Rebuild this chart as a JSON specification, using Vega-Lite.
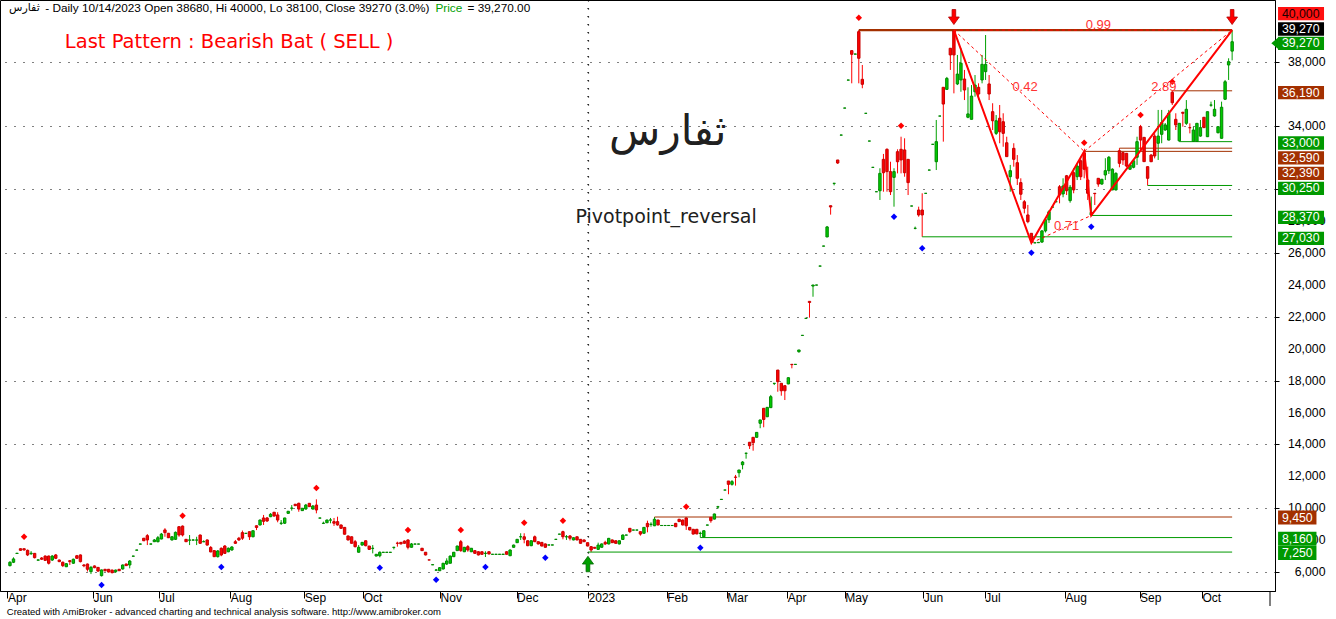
{
"$schema":"https://vega.github.io/schema/vega-lite/v6.json",
"width":1275,"height":591,
"autosize":{"type":"none"},
"padding":{"left":0,"top":0,"right":61,"bottom":28},
"background":"white",
"config":{"view":{"stroke":"black","strokeWidth":1},"axis":{"domainWidth":1,"tickWidth":1}},
"datasets":{
"bars":[
{"i":0,"o":6400,"h":6680,"l":6350,"c":6610},{"i":1,"o":6610,"h":6920,"l":6560,"c":6820},{"i":2,"o":7160,"h":7190,"l":7150,"c":7180},{"i":3,"o":7460,"h":7480,"l":7320,"c":7360},{"i":4,"o":7460,"h":7470,"l":7330,"c":7390},{"i":5,"o":7360,"h":7410,"l":7000,"c":7070},{"i":6,"o":7150,"h":7310,"l":7070,"c":7180},{"i":7,"o":7170,"h":7190,"l":6850,"c":6900},{"i":8,"o":6740,"h":6780,"l":6730,"c":6760},{"i":9,"o":6880,"h":6940,"l":6750,"c":6800},
{"i":10,"o":7000,"h":7040,"l":6690,"c":6730},{"i":11,"o":7000,"h":7030,"l":6470,"c":6550},{"i":12,"o":6750,"h":7060,"l":6690,"c":7000},{"i":13,"o":7070,"h":7130,"l":6810,"c":6860},{"i":14,"o":6750,"h":6780,"l":6620,"c":6650},{"i":15,"o":6610,"h":6660,"l":6310,"c":6400},{"i":16,"o":6330,"h":6560,"l":6310,"c":6520},{"i":17,"o":6710,"h":6750,"l":6440,"c":6650},{"i":18,"o":6550,"h":6840,"l":6510,"c":6800},{"i":19,"o":7020,"h":7070,"l":6840,"c":6860},
{"i":20,"o":7070,"h":7100,"l":6600,"c":6650},{"i":21,"o":6440,"h":6500,"l":6300,"c":6390},{"i":22,"o":6500,"h":6530,"l":6030,"c":6170},{"i":23,"o":6020,"h":6380,"l":5870,"c":6290},{"i":24,"o":6380,"h":6410,"l":6240,"c":6270},{"i":25,"o":6290,"h":6310,"l":6000,"c":6060},{"i":26,"o":5770,"h":6150,"l":5720,"c":6130},{"i":27,"o":6170,"h":6190,"l":6030,"c":6080},{"i":28,"o":6170,"h":6190,"l":5970,"c":6000},{"i":29,"o":6120,"h":6150,"l":5910,"c":5960},
{"i":30,"o":6020,"h":6150,"l":5940,"c":6120},{"i":31,"o":6170,"h":6190,"l":6060,"c":6080},{"i":32,"o":6190,"h":6470,"l":6150,"c":6440},{"i":33,"o":6500,"h":6530,"l":6380,"c":6400},{"i":34,"o":6440,"h":6750,"l":6230,"c":6690},{"i":35,"o":6990,"h":7010,"l":6980,"c":7000},{"i":36,"o":7370,"h":7390,"l":7360,"c":7380},{"i":37,"o":7745,"h":7770,"l":7740,"c":7760},{"i":38,"o":8120,"h":8130,"l":7940,"c":7960},{"i":39,"o":8280,"h":8380,"l":7690,"c":8010},
{"i":40,"o":7750,"h":7770,"l":7740,"c":7760},{"i":41,"o":7900,"h":8070,"l":7880,"c":8010},{"i":42,"o":7900,"h":8260,"l":7860,"c":8150},{"i":43,"o":8070,"h":8450,"l":8050,"c":8380},{"i":44,"o":8640,"h":8750,"l":8210,"c":8470},{"i":45,"o":8430,"h":8450,"l":8130,"c":8150},{"i":46,"o":8010,"h":8260,"l":7980,"c":8210},{"i":47,"o":8050,"h":8540,"l":8010,"c":8490},{"i":48,"o":8840,"h":8880,"l":8210,"c":8320},{"i":49,"o":8880,"h":8920,"l":8230,"c":8320},
{"i":50,"o":8050,"h":8070,"l":7880,"c":7900},{"i":51,"o":7995,"h":8320,"l":7690,"c":8010},{"i":52,"o":8000,"h":8050,"l":7990,"c":8010},{"i":53,"o":8000,"h":8210,"l":7690,"c":8010},{"i":54,"o":8320,"h":8350,"l":7780,"c":7800},{"i":55,"o":7895,"h":7990,"l":7880,"c":7905},{"i":56,"o":8010,"h":8040,"l":7660,"c":7690},{"i":57,"o":7540,"h":7630,"l":7240,"c":7260},{"i":58,"o":7340,"h":7380,"l":6940,"c":6960},{"i":59,"o":6960,"h":7380,"l":6910,"c":7320},
{"i":60,"o":7490,"h":7540,"l":6990,"c":7070},{"i":61,"o":7630,"h":7690,"l":7130,"c":7170},{"i":62,"o":7270,"h":7540,"l":7240,"c":7490},{"i":63,"o":7380,"h":7620,"l":7340,"c":7570},{"i":64,"o":7900,"h":8010,"l":7760,"c":7800},{"i":65,"o":8120,"h":8200,"l":7950,"c":8010},{"i":66,"o":8470,"h":8600,"l":8010,"c":8120},{"i":67,"o":8420,"h":8440,"l":8410,"c":8430},{"i":68,"o":8530,"h":8530,"l":8010,"c":8210},{"i":69,"o":8210,"h":8600,"l":8180,"c":8590},
{"i":70,"o":8900,"h":8920,"l":8630,"c":8790},{"i":71,"o":8950,"h":9290,"l":8920,"c":9260},{"i":72,"o":9390,"h":9580,"l":8950,"c":9180},{"i":73,"o":9390,"h":9450,"l":9140,"c":9200},{"i":74,"o":9470,"h":9700,"l":9440,"c":9620},{"i":75,"o":9750,"h":9760,"l":9480,"c":9510},{"i":76,"o":9580,"h":9750,"l":9120,"c":9260},{"i":77,"o":9050,"h":9260,"l":8950,"c":9070},{"i":78,"o":9060,"h":9400,"l":9010,"c":9390},{"i":79,"o":9680,"h":9830,"l":9660,"c":9810},
{"i":80,"o":10000,"h":10200,"l":9850,"c":10010},{"i":81,"o":10250,"h":10270,"l":10140,"c":10160},{"i":82,"o":10310,"h":10350,"l":9780,"c":9950},{"i":83,"o":9850,"h":10000,"l":9830,"c":10000},{"i":84,"o":9950,"h":10270,"l":9920,"c":10200},{"i":85,"o":10310,"h":10330,"l":10080,"c":10100},{"i":86,"o":9950,"h":10200,"l":9920,"c":10140},{"i":87,"o":10200,"h":10560,"l":9680,"c":9890},{"i":88,"o":9380,"h":9395,"l":9375,"c":9390},{"i":89,"o":9050,"h":9160,"l":9010,"c":9060},
{"i":90,"o":9090,"h":9290,"l":9070,"c":9260},{"i":91,"o":9255,"h":9390,"l":9055,"c":9265},{"i":92,"o":9160,"h":9390,"l":8890,"c":9060},{"i":93,"o":9160,"h":9470,"l":8910,"c":8950},{"i":94,"o":8950,"h":8980,"l":8720,"c":8740},{"i":95,"o":8800,"h":8820,"l":8350,"c":8370},{"i":96,"o":8260,"h":8290,"l":7980,"c":8010},{"i":97,"o":8210,"h":8230,"l":7790,"c":7800},{"i":98,"o":7900,"h":8010,"l":7540,"c":7590},{"i":99,"o":7240,"h":7690,"l":7220,"c":7550},
{"i":100,"o":7690,"h":7880,"l":7660,"c":7860},{"i":101,"o":7960,"h":7980,"l":7610,"c":7650},{"i":102,"o":7630,"h":7630,"l":7380,"c":7420},{"i":103,"o":7480,"h":7690,"l":7170,"c":7490},{"i":104,"o":7000,"h":7130,"l":6990,"c":7110},{"i":105,"o":7020,"h":7290,"l":6920,"c":7240},{"i":106,"o":7230,"h":7245,"l":7225,"c":7240},{"i":107,"o":7230,"h":7245,"l":7225,"c":7240},{"i":108,"o":7230,"h":7245,"l":7225,"c":7240},{"i":109,"o":7540,"h":7580,"l":7420,"c":7550},
{"i":110,"o":7810,"h":7900,"l":7590,"c":7800},{"i":111,"o":7860,"h":7880,"l":7740,"c":7760},{"i":112,"o":7940,"h":7980,"l":7780,"c":7800},{"i":113,"o":8010,"h":8050,"l":7420,"c":7550},{"i":114,"o":7550,"h":7820,"l":7540,"c":7760},{"i":115,"o":7750,"h":7765,"l":7745,"c":7757},{"i":116,"o":7750,"h":7765,"l":7745,"c":7757},{"i":117,"o":7490,"h":7510,"l":7320,"c":7340},{"i":118,"o":7240,"h":7250,"l":7040,"c":7070},{"i":119,"o":6760,"h":6765,"l":6745,"c":6750},
{"i":120,"o":6450,"h":6465,"l":6445,"c":6460},{"i":121,"o":6115,"h":6190,"l":6110,"c":6125},{"i":122,"o":6080,"h":6310,"l":6060,"c":6270},{"i":123,"o":6190,"h":6560,"l":6160,"c":6550},{"i":124,"o":6500,"h":6860,"l":6440,"c":6690},{"i":125,"o":6550,"h":7030,"l":6540,"c":7000},{"i":126,"o":6960,"h":7250,"l":6940,"c":7240},{"i":127,"o":7340,"h":7650,"l":7320,"c":7630},{"i":128,"o":7900,"h":8010,"l":7270,"c":7340},{"i":129,"o":7270,"h":7570,"l":7250,"c":7550},
{"i":130,"o":7590,"h":7690,"l":7270,"c":7380},{"i":131,"o":7270,"h":7500,"l":7250,"c":7490},{"i":132,"o":7340,"h":7350,"l":7160,"c":7170},{"i":133,"o":7270,"h":7300,"l":7040,"c":7070},{"i":134,"o":7270,"h":7290,"l":7100,"c":7110},{"i":135,"o":7165,"h":7300,"l":6940,"c":7175},{"i":136,"o":7270,"h":7300,"l":7110,"c":7130},{"i":137,"o":7105,"h":7120,"l":7100,"c":7115},{"i":138,"o":7105,"h":7120,"l":7100,"c":7115},{"i":139,"o":7105,"h":7120,"l":7100,"c":7115},
{"i":140,"o":7100,"h":7130,"l":7090,"c":7120},{"i":141,"o":7270,"h":7300,"l":7100,"c":7110},{"i":142,"o":7020,"h":7410,"l":7000,"c":7380},{"i":143,"o":7550,"h":7720,"l":7530,"c":7690},{"i":144,"o":7840,"h":8070,"l":7820,"c":8050},{"i":145,"o":8205,"h":8430,"l":8010,"c":8214},{"i":146,"o":8210,"h":8430,"l":7800,"c":8050},{"i":147,"o":7960,"h":7980,"l":7620,"c":7650},{"i":148,"o":7650,"h":7980,"l":7620,"c":7960},{"i":149,"o":8210,"h":8290,"l":7880,"c":7900},
{"i":150,"o":7900,"h":7910,"l":7730,"c":7760},{"i":151,"o":7860,"h":7880,"l":7610,"c":7630},{"i":152,"o":7760,"h":7790,"l":7530,"c":7550},{"i":153,"o":7690,"h":7705,"l":7685,"c":7700},{"i":154,"o":7690,"h":7705,"l":7685,"c":7700},{"i":155,"o":8045,"h":8060,"l":8040,"c":8052},{"i":156,"o":8370,"h":8385,"l":8365,"c":8380},{"i":157,"o":8530,"h":8590,"l":8050,"c":8210},{"i":158,"o":8205,"h":8320,"l":8010,"c":8214},{"i":159,"o":8260,"h":8320,"l":7980,"c":8120},
{"i":160,"o":8010,"h":8170,"l":7990,"c":8150},{"i":161,"o":8210,"h":8230,"l":7990,"c":8010},{"i":162,"o":8050,"h":8070,"l":7790,"c":7800},{"i":163,"o":8010,"h":8040,"l":7880,"c":7900},{"i":164,"o":7840,"h":7850,"l":7610,"c":7630},{"i":165,"o":7590,"h":7630,"l":7250,"c":7380},{"i":166,"o":7550,"h":7570,"l":7470,"c":7490},{"i":167,"o":7420,"h":7840,"l":7380,"c":7690},{"i":168,"o":7550,"h":7790,"l":7530,"c":7760},{"i":169,"o":7860,"h":7960,"l":7690,"c":7760},
{"i":170,"o":7760,"h":8140,"l":7730,"c":8110},{"i":171,"o":8010,"h":8040,"l":7820,"c":7840},{"i":172,"o":7960,"h":7980,"l":7780,"c":7800},{"i":173,"o":7760,"h":7980,"l":7730,"c":7960},{"i":174,"o":8040,"h":8350,"l":8020,"c":8320},{"i":175,"o":8315,"h":8330,"l":8310,"c":8321},{"i":176,"o":8740,"h":8750,"l":8440,"c":8530},{"i":177,"o":8630,"h":8645,"l":8625,"c":8635},{"i":178,"o":8630,"h":8645,"l":8625,"c":8635},{"i":179,"o":8530,"h":8540,"l":8280,"c":8380},
{"i":180,"o":8430,"h":8820,"l":8410,"c":8800},{"i":181,"o":9050,"h":9220,"l":8490,"c":8840},{"i":182,"o":8985,"h":9120,"l":8840,"c":8995},{"i":183,"o":8900,"h":9450,"l":8880,"c":9310},{"i":184,"o":9260,"h":9280,"l":8930,"c":8950},{"i":185,"o":8915,"h":8925,"l":8910,"c":8920},{"i":186,"o":8915,"h":8925,"l":8910,"c":8920},{"i":187,"o":8915,"h":8925,"l":8910,"c":8920},{"i":188,"o":8915,"h":8925,"l":8910,"c":8920},{"i":189,"o":9050,"h":9080,"l":8820,"c":8840},
{"i":190,"o":9310,"h":9330,"l":9140,"c":9160},{"i":191,"o":9260,"h":9290,"l":8920,"c":8950},{"i":192,"o":9390,"h":9430,"l":8640,"c":8900},{"i":193,"o":8800,"h":8820,"l":8610,"c":8640},{"i":194,"o":8680,"h":8700,"l":8360,"c":8380},{"i":195,"o":8680,"h":8700,"l":8370,"c":8390},{"i":196,"o":8420,"h":8530,"l":8160,"c":8430},{"i":197,"o":8210,"h":8600,"l":8170,"c":8590},{"i":198,"o":8940,"h":8955,"l":8935,"c":8950},{"i":199,"o":9430,"h":9430,"l":9090,"c":9220},
{"i":200,"o":9320,"h":9660,"l":9300,"c":9640},{"i":201,"o":10080,"h":10150,"l":9960,"c":10090},{"i":202,"o":10550,"h":10570,"l":10545,"c":10560},{"i":203,"o":11140,"h":11150,"l":11135,"c":11145},{"i":204,"o":11710,"h":11710,"l":10880,"c":11500},{"i":205,"o":11500,"h":11770,"l":11420,"c":11670},{"i":206,"o":11955,"h":12090,"l":11420,"c":11940},{"i":207,"o":12230,"h":12400,"l":11940,"c":12400},{"i":208,"o":12730,"h":12960,"l":12440,"c":12900},{"i":209,"o":13445,"h":13490,"l":13110,"c":13450},
{"i":210,"o":14140,"h":14140,"l":13720,"c":13920},{"i":211,"o":14450,"h":14450,"l":13610,"c":14110},{"i":212,"o":14450,"h":14780,"l":14440,"c":14760},{"i":213,"o":15330,"h":15540,"l":15020,"c":15540},{"i":214,"o":16270,"h":16270,"l":15080,"c":15570},{"i":215,"o":15740,"h":16350,"l":15720,"c":16330},{"i":216,"o":16310,"h":17110,"l":16290,"c":17000},{"i":217,"o":17830,"h":17840,"l":17730,"c":17840},{"i":218,"o":18670,"h":18670,"l":17310,"c":17940},{"i":219,"o":17840,"h":17840,"l":17060,"c":17370},
{"i":220,"o":17690,"h":17690,"l":16790,"c":17370},{"i":221,"o":17800,"h":18210,"l":17780,"c":18190},{"i":222,"o":19030,"h":19031,"l":18780,"c":19010},{"i":223,"o":19020,"h":19040,"l":19015,"c":19031},{"i":224,"o":19820,"h":19930,"l":19760,"c":19930},{"i":225,"o":20840,"h":20860,"l":20835,"c":20850},{"i":226,"o":21910,"h":21925,"l":21905,"c":21917},{"i":227,"o":22980,"h":22980,"l":21960,"c":22910},{"i":228,"o":23940,"h":24010,"l":23270,"c":24006},{"i":229,"o":24000,"h":24015,"l":23995,"c":24006},
{"i":230,"o":25190,"h":25205,"l":25185,"c":25200},{"i":231,"o":26445,"h":26460,"l":26440,"c":26453},{"i":232,"o":27020,"h":27710,"l":27010,"c":27650},{"i":233,"o":28980,"h":28980,"l":28420,"c":28900},{"i":234,"o":30380,"h":30400,"l":30260,"c":30390},{"i":235,"o":31850,"h":31850,"l":31600,"c":31660},{"i":236,"o":33410,"h":33425,"l":33405,"c":33417},{"i":237,"o":35105,"h":35120,"l":35100,"c":35111},{"i":238,"o":36860,"h":36875,"l":36855,"c":36868},{"i":239,"o":38710,"h":38710,"l":36660,"c":38480},
{"i":240,"o":38490,"h":38510,"l":38485,"c":38500},{"i":241,"o":39900,"h":40000,"l":36660,"c":38230},{"i":242,"o":36910,"h":37810,"l":36350,"c":36600},{"i":243,"o":34775,"h":34785,"l":34770,"c":34779},{"i":244,"o":33035,"h":33045,"l":33030,"c":33041},{"i":245,"o":31385,"h":31395,"l":31380,"c":31390},{"i":246,"o":29855,"h":29865,"l":29850,"c":29860},{"i":247,"o":29920,"h":31330,"l":29340,"c":31010},{"i":248,"o":31890,"h":32230,"l":29860,"c":31050},{"i":249,"o":32520,"h":32580,"l":29860,"c":31120},
{"i":250,"o":31120,"h":31740,"l":29650,"c":29860},{"i":251,"o":30760,"h":31330,"l":28920,"c":31120},{"i":252,"o":32370,"h":32520,"l":31010,"c":31740},{"i":253,"o":32520,"h":33310,"l":31010,"c":31850},{"i":254,"o":32480,"h":33210,"l":30800,"c":31050},{"i":255,"o":31890,"h":31890,"l":29650,"c":30430},{"i":256,"o":28960,"h":28975,"l":28955,"c":28963},{"i":257,"o":27560,"h":27670,"l":27500,"c":27563},{"i":258,"o":28710,"h":28920,"l":28290,"c":28400},{"i":259,"o":28710,"h":29760,"l":27030,"c":28400},
{"i":260,"o":29755,"h":29765,"l":29750,"c":29759},{"i":261,"o":31215,"h":31230,"l":31210,"c":31221},{"i":262,"o":32830,"h":32840,"l":32825,"c":32834},{"i":263,"o":31740,"h":34360,"l":31220,"c":33000},{"i":264,"o":34605,"h":34615,"l":34600,"c":34609},{"i":265,"o":36410,"h":36410,"l":33000,"c":35360},{"i":266,"o":36280,"h":37060,"l":36240,"c":36970},{"i":267,"o":38860,"h":38860,"l":37500,"c":38440},{"i":268,"o":39950,"h":40000,"l":36030,"c":38440},{"i":269,"o":36620,"h":38440,"l":36550,"c":37240},
{"i":270,"o":36870,"h":38860,"l":36130,"c":37920},{"i":271,"o":36930,"h":37500,"l":35610,"c":36240},{"i":272,"o":34530,"h":36410,"l":34470,"c":34740},{"i":273,"o":34400,"h":36550,"l":34400,"c":35860},{"i":274,"o":36130,"h":37180,"l":35820,"c":36550},{"i":275,"o":36410,"h":36660,"l":35610,"c":35990},{"i":276,"o":36870,"h":38440,"l":36660,"c":37850},{"i":277,"o":37390,"h":39690,"l":36870,"c":37850},{"i":278,"o":36620,"h":37180,"l":35610,"c":35990},{"i":279,"o":34880,"h":35410,"l":33730,"c":34310},
{"i":280,"o":33520,"h":34670,"l":33420,"c":34310},{"i":281,"o":34470,"h":35300,"l":32900,"c":33620},{"i":282,"o":34250,"h":34780,"l":32680,"c":33520},{"i":283,"o":32930,"h":33310,"l":32050,"c":32060},{"i":284,"o":30800,"h":31540,"l":29860,"c":31180},{"i":285,"o":32580,"h":32900,"l":31430,"c":31890},{"i":286,"o":31680,"h":32160,"l":30280,"c":30700},{"i":287,"o":30430,"h":30700,"l":29340,"c":29700},{"i":288,"o":29230,"h":29340,"l":28500,"c":28820},{"i":289,"o":28400,"h":29030,"l":27880,"c":27980},
{"i":290,"o":27250,"h":27250,"l":26650,"c":26830},{"i":291,"o":26650,"h":26660,"l":26645,"c":26655},{"i":292,"o":26660,"h":26690,"l":26650,"c":26680},{"i":293,"o":26700,"h":27450,"l":26650,"c":27400},{"i":294,"o":27400,"h":28200,"l":27300,"c":28100},{"i":295,"o":28100,"h":28700,"l":27900,"c":28600},{"i":296,"o":28890,"h":28910,"l":28880,"c":28900},{"i":297,"o":29225,"h":29240,"l":29220,"c":29232},{"i":298,"o":30170,"h":30280,"l":29130,"c":29650},{"i":299,"o":29720,"h":30700,"l":29510,"c":30220},
{"i":300,"o":30860,"h":30910,"l":29650,"c":29920},{"i":301,"o":29300,"h":30280,"l":29170,"c":30140},{"i":302,"o":31050,"h":31330,"l":29760,"c":29970},{"i":303,"o":30800,"h":31640,"l":30590,"c":31470},{"i":304,"o":31800,"h":32060,"l":30590,"c":30800},{"i":305,"o":32300,"h":32390,"l":30700,"c":31270},{"i":306,"o":30590,"h":31430,"l":29340,"c":29760},{"i":307,"o":28400,"h":29550,"l":28370,"c":28560},{"i":308,"o":29760,"h":29765,"l":29025,"c":29740},{"i":309,"o":30700,"h":30700,"l":30170,"c":30340},
{"i":310,"o":30340,"h":30660,"l":30300,"c":30640},{"i":311,"o":30910,"h":31960,"l":30590,"c":31180},{"i":312,"o":31180,"h":32100,"l":30970,"c":32020},{"i":313,"o":29970,"h":31330,"l":29960,"c":31270},{"i":314,"o":29970,"h":31080,"l":29940,"c":31010},{"i":315,"o":32430,"h":32590,"l":31390,"c":31640},{"i":316,"o":32310,"h":32370,"l":31540,"c":31850},{"i":317,"o":32270,"h":32280,"l":31390,"c":31470},{"i":318,"o":31270,"h":31600,"l":31230,"c":31540},{"i":319,"o":31390,"h":31850,"l":31330,"c":31800},
{"i":320,"o":32020,"h":33310,"l":31540,"c":33000},{"i":321,"o":33940,"h":34050,"l":32430,"c":33100},{"i":322,"o":33270,"h":33280,"l":31740,"c":31745},{"i":323,"o":31430,"h":31440,"l":30250,"c":30700},{"i":324,"o":32160,"h":32220,"l":31720,"c":31740},{"i":325,"o":33350,"h":33520,"l":31950,"c":32100},{"i":326,"o":32900,"h":34990,"l":31850,"c":33350},{"i":327,"o":33460,"h":34990,"l":32900,"c":34190},{"i":328,"o":33730,"h":34170,"l":33680,"c":34050},{"i":329,"o":33100,"h":34990,"l":33080,"c":34780},
{"i":330,"o":36100,"h":36190,"l":35300,"c":35440},{"i":331,"o":34400,"h":34780,"l":33730,"c":34050},{"i":332,"o":33050,"h":34160,"l":33000,"c":34150},{"i":333,"o":34840,"h":34880,"l":33940,"c":34780},{"i":334,"o":34150,"h":35610,"l":34050,"c":35030},{"i":335,"o":33880,"h":34150,"l":33520,"c":33870},{"i":336,"o":33010,"h":33940,"l":33010,"c":33730},{"i":337,"o":33010,"h":34150,"l":33010,"c":34150},{"i":338,"o":33350,"h":34360,"l":33310,"c":33880},{"i":339,"o":34530,"h":34540,"l":33850,"c":33880},
{"i":340,"o":33310,"h":34880,"l":33290,"c":34880},{"i":341,"o":35290,"h":35510,"l":35190,"c":35300},{"i":342,"o":34610,"h":35610,"l":34570,"c":35030},{"i":343,"o":33560,"h":33940,"l":33520,"c":33940},{"i":344,"o":33210,"h":35510,"l":33200,"c":35160},{"i":345,"o":35660,"h":36870,"l":35610,"c":36760},{"i":346,"o":37810,"h":38230,"l":36870,"c":38020},{"i":347,"o":38680,"h":40000,"l":38100,"c":39270}
],
"levels":[{"i":241,"v":40000,"k":"res"},{"i":330,"v":36190,"k":"res"},{"i":332,"v":33000,"k":"sup"},{"i":315,"v":32590,"k":"res"},{"i":305,"v":32390,"k":"res"},{"i":323,"v":30250,"k":"sup"},{"i":307,"v":28370,"k":"sup"},{"i":259,"v":27030,"k":"sup"},{"i":183,"v":9450,"k":"res"},{"i":196,"v":8160,"k":"sup"},{"i":164.1,"v":7250,"k":"sup"}],
"pivots":[{"i":4,"v":8215,"t":"H"},{"i":49,"v":9532,"t":"H"},{"i":87,"v":11270,"t":"H"},{"i":113,"v":8635,"t":"H"},{"i":128,"v":8635,"t":"H"},{"i":146,"v":9093,"t":"H"},{"i":157,"v":9218,"t":"H"},{"i":192,"v":10096,"t":"H"},{"i":241,"v":40776,"t":"H"},{"i":253,"v":34001,"t":"H"},{"i":305,"v":32934,"t":"H"},{"i":321,"v":34672,"t":"H"},{"i":330,"v":36761,"t":"H"},
{"i":26,"v":5184,"t":"L"},{"i":60,"v":6313,"t":"L"},{"i":105,"v":6270,"t":"L"},{"i":121,"v":5517,"t":"L"},{"i":135,"v":6313,"t":"L"},{"i":152,"v":6897,"t":"L"},{"i":196,"v":7524,"t":"L"},{"i":251,"v":28291,"t":"L"},{"i":259,"v":26308,"t":"L"},{"i":290,"v":26033,"t":"L"},{"i":307,"v":27664,"t":"L"}],
"pattern":[{"i":268,"v":40000,"p":"X"},{"i":290,"v":26650,"p":"A"},{"i":305,"v":32390,"p":"B"},{"i":307,"v":28370,"p":"C"},{"i":347,"v":40000,"p":"D"}],
"ratios":[{"i":268,"v":40000,"i2":305,"v2":32390},{"i":290,"v":26650,"i2":307,"v2":28370},{"i":305,"v":32390,"i2":347,"v2":40000},{"i":268,"v":40000,"i2":347,"v2":40000}],
"ratioLabels":[{"i":288.2,"v":36447,"t":"0.42"},{"i":300,"v":27708,"t":"0.71"},{"i":327.6,"v":36428,"t":"2.89"},{"i":309,"v":40318,"t":"0.99"}],
"ticks":[{"v":6000},{"v":8000},{"v":10000},{"v":12000},{"v":14000},{"v":16000},{"v":18000},{"v":20000},{"v":22000},{"v":24000},{"v":26000},{"v":28000},{"v":34000},{"v":38000}],
"boxes":[{"v":40000,"at":41027,"k":"hi","t":"40,000"},{"v":39270,"at":40068,"k":"last","t":"39,270"},{"v":39270,"at":39170,"k":"price","t":"39,270"},{"v":36190,"at":36071,"k":"res","t":"36,190"},{"v":33000,"at":32915,"k":"sup","t":"33,000"},{"v":32590,"at":31987,"k":"res","t":"32,590"},{"v":32390,"at":31014,"k":"res","t":"32,390"},{"v":30250,"at":30073,"k":"sup","t":"30,250"},{"v":28370,"at":28254,"k":"sup","t":"28,370"},{"v":27030,"at":26936,"k":"sup","t":"27,030"},{"v":9450,"at":9419,"k":"res","t":"9,450"},{"v":8160,"at":8082,"k":"sup","t":"8,160"},{"v":7250,"at":7192,"k":"sup","t":"7,250"}]
},
"layer":[
{"data":{"name":"bars"},"mark":{"type":"rule","strokeWidth":1},
 "encoding":{"x":{"field":"i","type":"quantitative","scale":{"domain":[-1.41,357.75],"nice":false,"zero":false},
   "axis":{"values":[-0.71,23.55,42.25,62.53,83.55,100.28,122.11,143.83,164.14,186.48,203.52,220.7,237.04,259.29,276.76,299.58,320.7,338.45],
    "labelExpr":"['Apr','Jun','Jul','Aug','Sep','Oct','Nov','Dec','2023','Feb','Mar','Apr','May','Jun','Jul','Aug','Sep','Oct'][indexof([-0.71,23.55,42.25,62.53,83.55,100.28,122.11,143.83,164.14,186.48,203.52,220.7,237.04,259.29,276.76,299.58,320.7,338.45],datum.value)]",
    "title":null,"grid":true,"gridColor":"black","gridDash":[1,7],"gridWidth":1.2,"gridOpacity":{"condition":{"test":"datum.value == 164.14","value":1},"value":0},
    "domainColor":"black","tickColor":"black","tickSize":7,"labelAlign":"left","labelDx":4,"labelPadding":-6,"labelFont":"Liberation Sans","labelFontSize":12,"labelColor":"black","labelOverlap":false,"labelFlush":false}},
  "y":{"field":"l","type":"quantitative","scale":{"domain":[4808,41887],"nice":false,"zero":false},
   "axis":{"orient":"right","values":[6000,8000,10000,12000,14000,16000,18000,20000,22000,24000,26000,28000,30000,32000,34000,36000,38000,40000],"labels":false,"title":null,"grid":true,"gridColor":"black","gridDash":[1,8],"gridOpacity":1,"domainColor":"black","tickColor":"black","tickSize":4}},
  "y2":{"field":"h"},
  "color":{"condition":{"test":"datum.c>=datum.o","value":"#00a000"},"value":"#ff0000"}}},
{"data":{"values":[{"i":164.14,"v":41887,"v2":4808}]},"mark":{"type":"rule","color":"#000000","strokeDash":[1,7],"strokeWidth":1.2,"opacity":1},
 "encoding":{"x":{"field":"i","type":"quantitative","scale":{"domain":[-1.41,357.75],"nice":false,"zero":false}},
  "y":{"field":"v","type":"quantitative","scale":{"domain":[4808,41887],"nice":false,"zero":false}},"y2":{"field":"v2"}}},
{"data":{"values":[{"i":357.75,"v":4808,"v2":3867}]},"mark":{"type":"rule","color":"black","strokeWidth":1},
 "encoding":{"x":{"field":"i","type":"quantitative","scale":{"domain":[-1.41,357.75],"nice":false,"zero":false}},
  "y":{"field":"v","type":"quantitative","scale":{"domain":[4808,41887],"nice":false,"zero":false}},"y2":{"field":"v2"}}},
{"data":{"name":"levels"},"mark":{"type":"rule"},
 "encoding":{"x":{"field":"i","type":"quantitative","scale":{"domain":[-1.41,357.75],"nice":false,"zero":false}},
  "x2":{"datum":347},
  "y":{"field":"v","type":"quantitative","scale":{"domain":[4808,41887],"nice":false,"zero":false}},
  "color":{"condition":{"test":"datum.k=='res'","value":"#a33000"},"value":"#009900"},
  "strokeWidth":{"condition":{"test":"datum.v>=40000","value":2.2},"value":1}}},
{"data":{"name":"bars"},"mark":{"type":"bar","width":2.4,"strokeWidth":1,"orient":"vertical"},
 "encoding":{"x":{"field":"i","type":"quantitative","scale":{"domain":[-1.41,357.75],"nice":false,"zero":false}},
  "y":{"field":"o","type":"quantitative","scale":{"domain":[4808,41887],"nice":false,"zero":false}},
  "y2":{"field":"c"},
  "fill":{"condition":{"test":"datum.c>=datum.o","value":"#00cc00"},"value":"#ff0000"},
  "stroke":{"condition":{"test":"datum.c>=datum.o","value":"#008800"},"value":"#c80000"}}},
{"data":{"name":"ratios"},"mark":{"type":"rule","color":"#ff0000","strokeWidth":1,"strokeDash":[3,3]},
 "encoding":{"x":{"field":"i","type":"quantitative","scale":{"domain":[-1.41,357.75],"nice":false,"zero":false}},"x2":{"field":"i2"},
  "y":{"field":"v","type":"quantitative","scale":{"domain":[4808,41887],"nice":false,"zero":false}},"y2":{"field":"v2"}}},
{"data":{"name":"pattern"},"mark":{"type":"line","color":"#ff0000","strokeWidth":2},
 "encoding":{"x":{"field":"i","type":"quantitative","scale":{"domain":[-1.41,357.75],"nice":false,"zero":false}},
  "y":{"field":"v","type":"quantitative","scale":{"domain":[4808,41887],"nice":false,"zero":false}}}},
{"data":{"name":"pivots"},"mark":{"type":"point","shape":"diamond","filled":true,"size":42,"opacity":1},
 "encoding":{"x":{"field":"i","type":"quantitative","scale":{"domain":[-1.41,357.75],"nice":false,"zero":false}},
  "y":{"field":"v","type":"quantitative","scale":{"domain":[4808,41887],"nice":false,"zero":false}},
  "color":{"condition":{"test":"datum.t=='H'","value":"#ff0000"},"value":"#0000ff"}}},
{"data":{"values":[{"i":268,"v":40820},{"i":347,"v":40820}]},"mark":{"type":"point","shape":"M-0.24,-1L0.24,-1L0.24,0L0.72,0L0,1L-0.72,0L-0.24,0Z","filled":true,"size":225,"opacity":1,"fill":"#ff0000","stroke":"#b00000","strokeWidth":0.8},
 "encoding":{"x":{"field":"i","type":"quantitative","scale":{"domain":[-1.41,357.75],"nice":false,"zero":false}},
  "y":{"field":"v","type":"quantitative","scale":{"domain":[4808,41887],"nice":false,"zero":false}}}},
{"data":{"values":[{"i":164.1,"v":6500}]},"mark":{"type":"point","shape":"M-0.24,1L0.24,1L0.24,0L0.72,0L0,-1L-0.72,0L-0.24,0Z","filled":true,"size":240,"opacity":1,"fill":"#00a000","stroke":"#006600","strokeWidth":0.8},
 "encoding":{"x":{"field":"i","type":"quantitative","scale":{"domain":[-1.41,357.75],"nice":false,"zero":false}},
  "y":{"field":"v","type":"quantitative","scale":{"domain":[4808,41887],"nice":false,"zero":false}}}},
{"data":{"name":"ratioLabels"},"mark":{"type":"text","font":"Liberation Sans","fontSize":13,"color":"#ff3333","align":"center","baseline":"middle"},
 "encoding":{"x":{"field":"i","type":"quantitative","scale":{"domain":[-1.41,357.75],"nice":false,"zero":false}},
  "y":{"field":"v","type":"quantitative","scale":{"domain":[4808,41887],"nice":false,"zero":false}},"text":{"field":"t"}}},
{"data":{"values":[{"i":10.0,"v":41354,"t":"- Daily 10/14/2023 Open 38680, Hi 40000, Lo 38100, Close 39270 (3.0%)"},{"i":129.92,"v":41354,"t":"= 39,270.00"}]},
 "mark":{"type":"text","font":"Liberation Sans","fontSize":11.8,"color":"black","align":"left","baseline":"middle"},
 "encoding":{"x":{"field":"i","type":"quantitative","scale":{"domain":[-1.41,357.75],"nice":false,"zero":false}},
  "y":{"field":"v","type":"quantitative","scale":{"domain":[4808,41887],"nice":false,"zero":false}},"text":{"field":"t"}}},
{"data":{"values":[{"i":120.79,"v":41354,"t":"Price"}]},
 "mark":{"type":"text","font":"Liberation Sans","fontSize":11.8,"color":"#00a000","align":"left","baseline":"middle"},
 "encoding":{"x":{"field":"i","type":"quantitative","scale":{"domain":[-1.41,357.75],"nice":false,"zero":false}},
  "y":{"field":"v","type":"quantitative","scale":{"domain":[4808,41887],"nice":false,"zero":false}},"text":{"field":"t"}}},
{"data":{"values":[{"i":-0.28,"v":41354,"t":"ثفارس"}]},
 "mark":{"type":"text","font":"DejaVu Sans","fontSize":11,"color":"black","align":"left","baseline":"middle"},
 "encoding":{"x":{"field":"i","type":"quantitative","scale":{"domain":[-1.41,357.75],"nice":false,"zero":false}},
  "y":{"field":"v","type":"quantitative","scale":{"domain":[4808,41887],"nice":false,"zero":false}},"text":{"field":"t"}}},
{"data":{"values":[{"i":15.58,"v":38857,"t":"Last Pattern : Bearish Bat ( SELL )"}]},
 "mark":{"type":"text","font":"DejaVu Sans","fontSize":19.5,"color":"#ff0000","align":"left","baseline":"alphabetic"},
 "encoding":{"x":{"field":"i","type":"quantitative","scale":{"domain":[-1.41,357.75],"nice":false,"zero":false}},
  "y":{"field":"v","type":"quantitative","scale":{"domain":[4808,41887],"nice":false,"zero":false}},"text":{"field":"t"}}},
{"data":{"values":[{"i":186.76,"v":33605,"t":"ثفارس"}]},
 "mark":{"type":"text","font":"DejaVu Sans","fontSize":42,"color":"#202020","align":"center","baseline":"middle"},
 "encoding":{"x":{"field":"i","type":"quantitative","scale":{"domain":[-1.41,357.75],"nice":false,"zero":false}},
  "y":{"field":"v","type":"quantitative","scale":{"domain":[4808,41887],"nice":false,"zero":false}},"text":{"field":"t"}}},
{"data":{"values":[{"i":160.56,"v":27915,"t":"Pivotpoint_reversal"}]},
 "mark":{"type":"text","font":"DejaVu Sans","fontSize":19,"color":"#202020","align":"left","baseline":"alphabetic"},
 "encoding":{"x":{"field":"i","type":"quantitative","scale":{"domain":[-1.41,357.75],"nice":false,"zero":false}},
  "y":{"field":"v","type":"quantitative","scale":{"domain":[4808,41887],"nice":false,"zero":false}},"text":{"field":"t"}}},
{"data":{"values":[{"i":-0.9,"v":3490,"t":"Created with AmiBroker - advanced charting and technical analysis software. http://www.amibroker.com"}]},
 "mark":{"type":"text","font":"Liberation Sans","fontSize":9.5,"color":"black","align":"left","baseline":"middle"},
 "encoding":{"x":{"field":"i","type":"quantitative","scale":{"domain":[-1.41,357.75],"nice":false,"zero":false}},
  "y":{"field":"v","type":"quantitative","scale":{"domain":[4808,41887],"nice":false,"zero":false}},"text":{"field":"t"}}},
{"data":{"name":"ticks"},
 "mark":{"type":"text","font":"Liberation Sans","fontSize":12.3,"color":"black","align":"right","baseline":"middle"},
 "encoding":{"x":{"datum":373.52,"type":"quantitative","scale":{"domain":[-1.41,357.75],"nice":false,"zero":false}},
  "y":{"field":"v","type":"quantitative","scale":{"domain":[4808,41887],"nice":false,"zero":false}},
  "text":{"field":"v","type":"quantitative","format":",d"}}},
{"data":{"name":"boxes"},"transform":[{"filter":"datum.v>=10000"}],
 "mark":{"type":"tick","orient":"horizontal","size":46,"thickness":13.3,"opacity":1},
 "encoding":{"x":{"datum":366.56,"type":"quantitative","scale":{"domain":[-1.41,357.75],"nice":false,"zero":false}},
  "y":{"field":"at","type":"quantitative","scale":{"domain":[4808,41887],"nice":false,"zero":false}},
  "color":{"condition":[{"test":"datum.k=='hi'","value":"#ff1010"},{"test":"datum.k=='last'","value":"#000000"},{"test":"datum.k=='res'","value":"#a33000"}],"value":"#009900"}}},
{"data":{"name":"boxes"},"transform":[{"filter":"datum.v<10000"}],
 "mark":{"type":"tick","orient":"horizontal","size":38.4,"thickness":14,"opacity":1},
 "encoding":{"x":{"datum":365.49,"type":"quantitative","scale":{"domain":[-1.41,357.75],"nice":false,"zero":false}},
  "y":{"field":"at","type":"quantitative","scale":{"domain":[4808,41887],"nice":false,"zero":false}},
  "color":{"condition":[{"test":"datum.k=='res'","value":"#a33000"}],"value":"#009900"}}},
{"data":{"name":"boxes"},"transform":[{"filter":"datum.k=='price'"}],
 "mark":{"type":"point","shape":"M-0.6,0L0.6,-1L0.6,1Z","filled":true,"size":144,"opacity":1,"color":"#009900"},
 "encoding":{"x":{"datum":359.15,"type":"quantitative","scale":{"domain":[-1.41,357.75],"nice":false,"zero":false}},
  "y":{"field":"at","type":"quantitative","scale":{"domain":[4808,41887],"nice":false,"zero":false}}}},
{"data":{"name":"boxes"},
 "mark":{"type":"text","font":"Liberation Sans","fontSize":12.3,"align":"left","baseline":"middle"},
 "encoding":{"x":{"datum":361.13,"type":"quantitative","scale":{"domain":[-1.41,357.75],"nice":false,"zero":false}},
  "y":{"field":"at","type":"quantitative","scale":{"domain":[4808,41887],"nice":false,"zero":false}},
  "text":{"field":"t"},
  "color":{"condition":{"test":"datum.k=='hi'","value":"#200000"},"value":"white"}}}
]
}
